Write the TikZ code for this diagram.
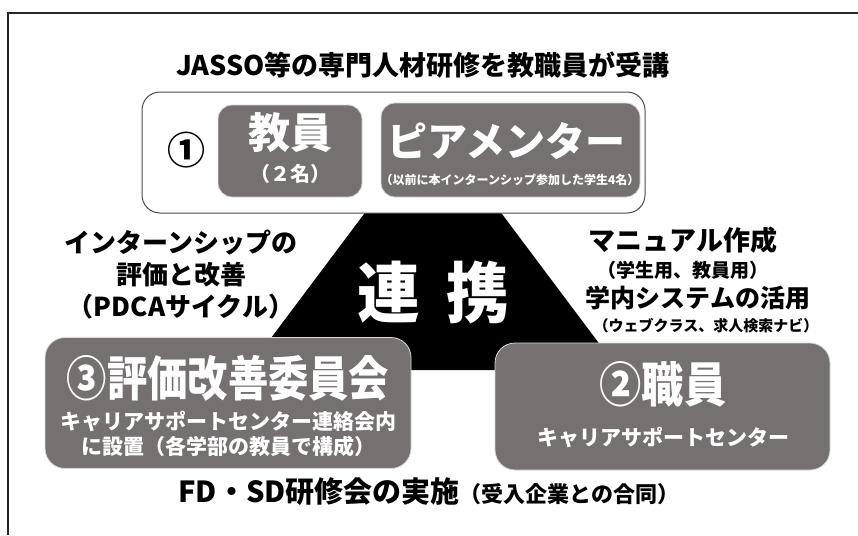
\documentclass[tikz,border=0pt]{standalone}
\usepackage{fontspec}
\usepackage{graphicx}
\setmainfont{Noto Sans CJK JP}
\definecolor{boxgray}{RGB}{118,113,113}
\newcommand{\fs}[1]{\fontsize{#1}{#1}\selectfont}
\newcommand{\cond}[2]{\scalebox{#1}[1]{#2}}
\tikzset{
  graybox/.style={draw=white!85!black, line width=0.8pt, fill=boxgray, rounded corners=14pt, inner sep=0pt},
  whitebox/.style={draw=black!70, line width=1pt, fill=white, rounded corners=18pt, inner sep=0pt},
  btext/.style={font=\bfseries, text=black, inner sep=0pt, align=center},
  wtext/.style={font=\bfseries, text=white, inner sep=0pt, align=center},
}
\begin{document}
\begin{tikzpicture}[x=1pt,y=-1pt]
\useasboundingbox (0,0) rectangle (858,535);
\fill[white] (0,0) rectangle (858,535);
\draw[line width=2pt, black!85] (8,535) -- (8,13) -- (858,13);
% title
\node[btext] (title) at (423,65) {\fs{27}JASSO等の専門人材研修を教職員が受講};
% black triangle
\fill[black] (433,122) -- (247,370) -- (619,370) -- cycle;
\node[wtext] (ren) at (389,292) {\cond{0.95}{\fs{66}連}};
\node[wtext] (kei) at (478,292) {\cond{0.95}{\fs{66}携}};
% top box
\node[whitebox, minimum width=503pt, minimum height=121pt] (top) at (393.5,152.5) {};
\node[btext] (one) at (186,150) {\fs{38}①};
\node[graybox, minimum width=144pt, minimum height=92pt] (kyoin) at (290,151) {};
\node[wtext] (kyointxt) at (290,133) {\fs{42}教員};
\node[wtext] (kyoinsub) at (290,174) {\fs{20}（２名）};
\node[graybox, minimum width=259pt, minimum height=94pt] (peer) at (510.5,150) {};
\node[wtext] (peertxt) at (506,141) {\fs{40}ピアメンター};
\node[wtext] (peersub) at (510,180) {\fs{12}（以前に本インターンシップ参加した学生4名）};
% left text
\node[btext] (left) at (181,275) {\fs{26}インターンシップの\\[6pt]\fs{26}評価と改善\\[6pt]\fs{26}（PDCAサイクル）};
% right text
\node[btext] (r1) at (683,240) {\fs{27}マニュアル作成};
\node[btext] (r2) at (683,270) {\fs{19}（学生用、教員用）};
\node[btext] (r3) at (698,298) {\fs{25}学内システムの活用};
\node[btext] (r4) at (706,326) {\fs{15}（ウェブクラス、求人検索ナビ）};
% box 3
\node[graybox, rounded corners=20pt, minimum width=366pt, minimum height=131pt] (b3) at (228,403) {};
\node[wtext] (b3t) at (228,378) {\cond{0.84}{\fs{48}③評価改善委員会}};
\node[wtext] (b3s) at (228,434) {\fs{21}キャリアサポートセンター連絡会内\\[4pt]\fs{21}に設置（各学部の教員で構成）};
% box 2
\node[graybox, rounded corners=20pt, minimum width=335pt, minimum height=127pt] (b2) at (662.5,406.5) {};
\node[wtext] (b2t) at (663,384) {\cond{0.88}{\fs{48}②職員}};
\node[wtext] (b2s) at (663,437) {\fs{21}キャリアサポートセンター};
% bottom text
\node[btext] (bottom) at (429,492) {\fs{29}FD・SD研修会の実施\fs{22}（受入企業との合同）};
\end{tikzpicture}
\end{document}
